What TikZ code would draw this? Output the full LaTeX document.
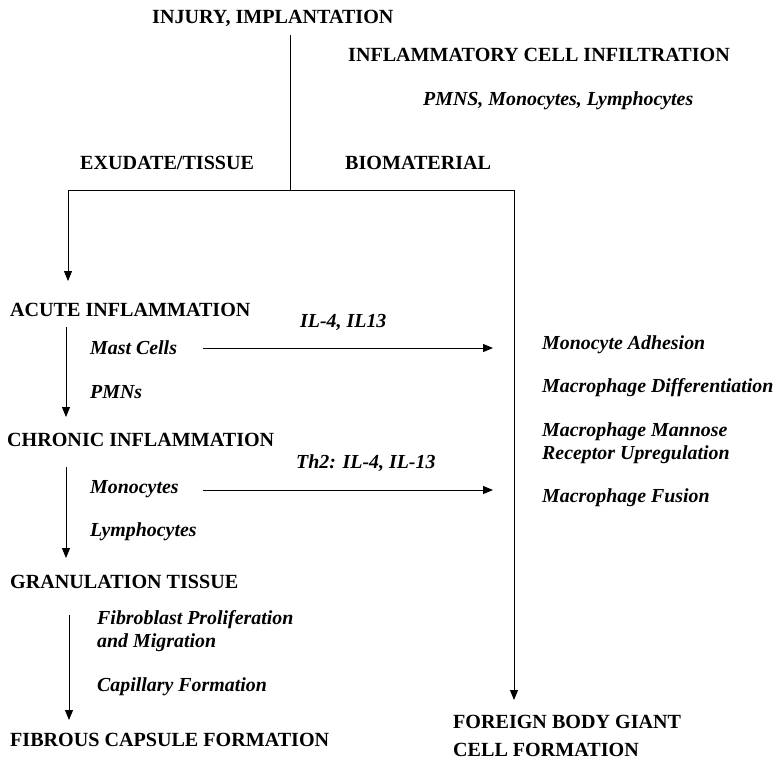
\documentclass[tikz,border=0pt]{standalone}
\usepackage{fontspec}
\setmainfont{Liberation Serif}
\usetikzlibrary{arrows.meta}
\begin{document}
\begin{tikzpicture}[x=1pt,y=-1pt,
  capt/.style={font=\bfseries\fontsize{20.1}{24}\selectfont, anchor=west, inner sep=0pt},
  ital/.style={font=\bfseries\itshape\fontsize{19.9}{23}\selectfont, anchor=west, inner sep=0pt, align=left},
  conn/.style={line width=1pt, black},
  arr/.style={conn, -{Triangle[length=10pt,width=8pt]}}]
\useasboundingbox (0,0) rectangle (774,761);
% headings
\node[capt] (inj) at (152,18) {INJURY, IMPLANTATION};
\node[capt] (infl) at (348,55) {INFLAMMATORY CELL INFILTRATION};
\node[ital] (pmns) at (423,101) {PMNS, Monocytes, Lymphocytes};
\node[capt] (exu) at (80,163) {EXUDATE/TISSUE};
\node[capt] (bio) at (345,163) {BIOMATERIAL};
% left column
\node[capt] (acute) at (10,310) {ACUTE INFLAMMATION};
\node[ital] (mast) at (90,348) {Mast Cells};
\node[ital] (pmn) at (90,392) {PMNs};
\node[capt] (chronic) at (7,440) {CHRONIC INFLAMMATION};
\node[ital] (mono) at (90,489) {Monocytes};
\node[ital] (lymph) at (90,532) {Lymphocytes};
\node[capt] (gran) at (10,582) {GRANULATION TISSUE};
\node[ital] (fibro) at (97,631) {Fibroblast Proliferation\\and Migration};
\node[ital] (capil) at (97,687) {Capillary Formation};
\node[capt] (fibrous) at (10,740) {FIBROUS CAPSULE FORMATION};
% cytokine labels
\node[ital] (il4) at (300,322) {IL-4, IL13};
\node[ital] (th2) at (296,463) {Th2: IL-4, IL-13};
% right column
\node[ital] (adh) at (542,345) {Monocyte Adhesion};
\node[ital] (diff) at (542,388) {Macrophage Differentiation};
\node[ital] (mann) at (542,443.5) {Macrophage Mannose\\Receptor Upregulation};
\node[ital] (fus) at (542,498) {Macrophage Fusion};
\node[capt, align=left, font=\bfseries\fontsize{20.1}{28}\selectfont] (fbgc) at (453,736) {FOREIGN BODY GIANT\\CELL FORMATION};
% junction coordinates
\coordinate (t0) at (290,35);
\coordinate (t1) at (290,190);
\coordinate (lc) at (68,190);
\coordinate (rc) at (514,190);
\coordinate (la) at (68,281);
\coordinate (ra) at (514,700);
\coordinate (a1s) at (66,327); \coordinate (a1e) at (66,417);
\coordinate (a2s) at (66,467); \coordinate (a2e) at (66,558);
\coordinate (a3s) at (69,615); \coordinate (a3e) at (69,720);
\coordinate (h1s) at (203,348); \coordinate (h1e) at (493,348);
\coordinate (h2s) at (203,490); \coordinate (h2e) at (493,490);
% connectors
\draw[conn] (t0) -- (t1);
\draw[arr] (t1) -- (lc) -- (la);
\draw[arr] (t1) -- (rc) -- (ra);
\draw[arr] (a1s) -- (a1e);
\draw[arr] (a2s) -- (a2e);
\draw[arr] (a3s) -- (a3e);
\draw[arr] (h1s) -- (h1e);
\draw[arr] (h2s) -- (h2e);
\end{tikzpicture}
\end{document}
